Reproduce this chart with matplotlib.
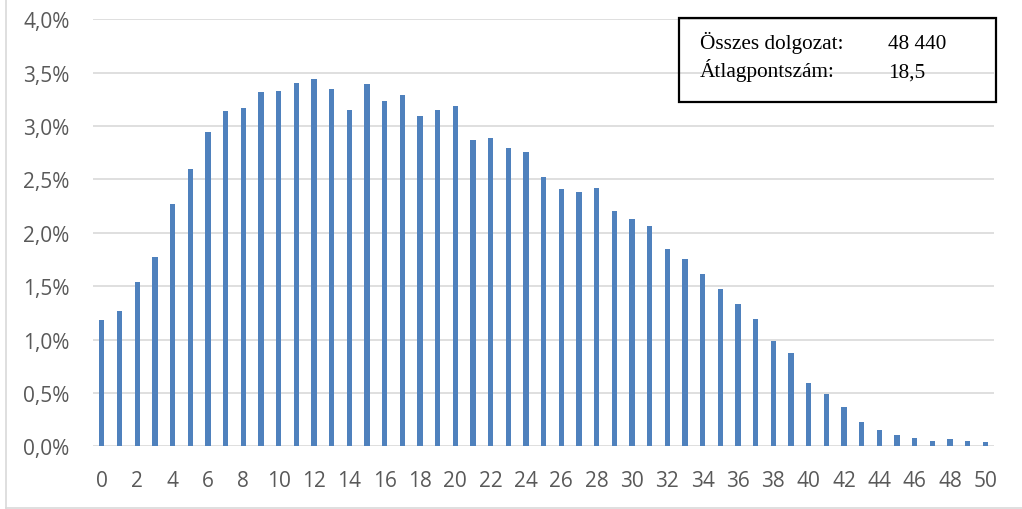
import matplotlib
matplotlib.use("Agg")
import matplotlib.pyplot as plt
from matplotlib.patches import Rectangle
from matplotlib.lines import Line2D
from matplotlib.ticker import FuncFormatter

# Data: share of papers (%) per score 0..50
scores = list(range(0, 51))
shares = [1.18, 1.27, 1.54, 1.77, 2.27, 2.60, 2.94, 3.14, 3.17, 3.32,
          3.33, 3.40, 3.44, 3.35, 3.15, 3.39, 3.23, 3.29, 3.09, 3.15,
          3.19, 2.87, 2.89, 2.79, 2.76, 2.52, 2.41, 2.38, 2.42, 2.20,
          2.13, 2.06, 1.85, 1.75, 1.61, 1.47, 1.33, 1.19, 0.99, 0.87,
          0.59, 0.49, 0.37, 0.23, 0.15, 0.11, 0.08, 0.05, 0.07, 0.05,
          0.04]
yticks = [0.0, 0.5, 1.0, 1.5, 2.0, 2.5, 3.0, 3.5, 4.0]
xticks = list(range(0, 51, 2))
box_labels = ["Összes dolgozat:", "Átlagpontszám:"]
box_values = ["48 440", "18,5"]

W, H = 1022, 510
fig = plt.figure(figsize=(W / 100, H / 100), dpi=100)
ax = fig.add_axes([93 / W, (H - 447.3) / H, (994.3 - 93) / W, (447.3 - 20.3) / H])

ax.bar(scores, shares, width=0.3, color="#4F81BD", zorder=3)
ax.set_xlim(-0.5, 50.5)
ax.set_ylim(0, 4.0)
ax.set_yticks(yticks)
ax.set_xticks(xticks)
ax.yaxis.set_major_formatter(FuncFormatter(lambda v, p: f"{v:.1f}%".replace(".", ",")))
ax.grid(axis="y", color="#D9D9D9", linewidth=1.2, zorder=0)
ax.set_axisbelow(True)
for s in ax.spines.values():
    s.set_visible(False)
ax.tick_params(axis="both", length=0, labelsize=15, labelcolor="#595959")
ax.tick_params(axis="y", pad=17)
ax.tick_params(axis="x", pad=17)
for lbl in ax.get_xticklabels() + ax.get_yticklabels():
    lbl.set_fontfamily("Open Sans")

# outer chart border (left and bottom visible)
fig.add_artist(Line2D([6 / W, 6 / W], [1 / H, 1.0], color="#D9D9D9", linewidth=1.2))
fig.add_artist(Line2D([6 / W, 1.0], [1.5 / H, 1.5 / H], color="#D9D9D9", linewidth=1.2))

# info box
fig.add_artist(Rectangle((679 / W, (H - 102.7) / H), (996 - 679) / W, (102.7 - 19) / H,
                         transform=fig.transFigure, fill=False, edgecolor="black", linewidth=1.6))
for i, (lab, val) in enumerate(zip(box_labels, box_values)):
    yy = (H - (49.3 + 28 * i)) / H
    fig.text(700 / W, yy, lab, family="Liberation Serif", fontsize=15.3, va="baseline", color="black")
    fig.text(888 / W, yy, val, family="Liberation Serif", fontsize=15.3, va="baseline", color="black")

fig.savefig("out.png", dpi=100)
